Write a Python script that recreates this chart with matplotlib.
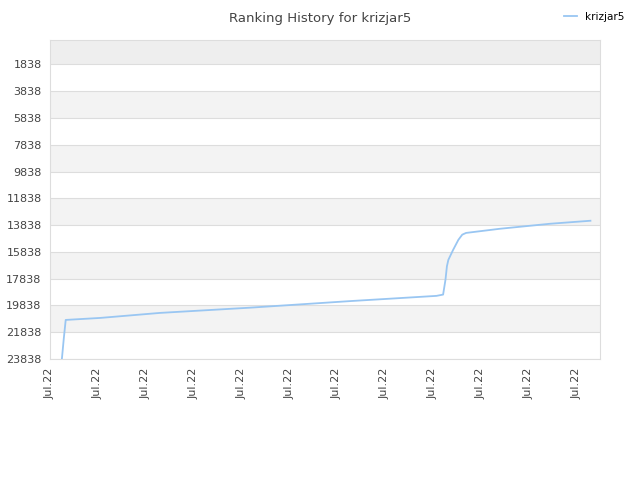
import matplotlib
matplotlib.use("Agg")
import matplotlib.pyplot as plt

# ranking values (position in days from start, rank)
dias = [0.25, 0.29, 0.33, 1.05, 2.30, 4.18, 6.28, 8.08, 8.22, 8.27, 8.30, 8.33,
        8.43, 8.54, 8.62, 8.70, 9.41, 10.46, 11.30]
rango = [23838, 22300, 20917, 20768, 20393, 20003, 19510, 19121, 19024, 17900,
         16900, 16428, 15680, 14931, 14550, 14420, 14108, 13734, 13510]

ticks_y = [1838, 3838, 5838, 7838, 9838, 11838, 13838, 15838, 17838, 19838, 21838, 23838]
ticks_x = list(range(12))
etiquetas_x = ["Jul.22"] * 12

fig = plt.figure(figsize=(6.4, 4.8), dpi=100)
ax = fig.add_axes([0.078, 0.252, 0.8595, 0.665])

# bandas alternas
ax.axhspan(0, 1838, color="#eeeeee", zorder=0, lw=0)
for i in range(len(ticks_y) - 1):
    if i % 2 == 1:
        ax.axhspan(ticks_y[i], ticks_y[i + 1], color="#f3f3f3", zorder=0, lw=0)
for t in ticks_y:
    ax.axhline(t, color="#dddddd", lw=0.8, zorder=1)

ax.plot(dias, rango, color="#99c6f2", lw=1.3, label="krizjar5", zorder=3)

ax.set_ylim(23838, 0)
ax.set_xlim(0, 11.5)
ax.set_yticks(ticks_y)
ax.set_yticklabels([str(t) for t in ticks_y], fontsize=8, color="#444444")
ax.set_xticks(ticks_x)
ax.set_xticklabels(etiquetas_x, rotation=90, fontsize=8, color="#444444")
ax.tick_params(length=0, pad=6)

for s in ax.spines.values():
    s.set_color("#dddddd")

fig.text(0.5, 0.975, "Ranking History for krizjar5", ha="center", va="top",
         fontsize=9.5, color="#444444")
fig.legend(loc="upper right", bbox_to_anchor=(0.99, 0.995), frameon=False,
           fontsize=7.5, handlelength=1.2)

fig.savefig("out.png", dpi=100)
